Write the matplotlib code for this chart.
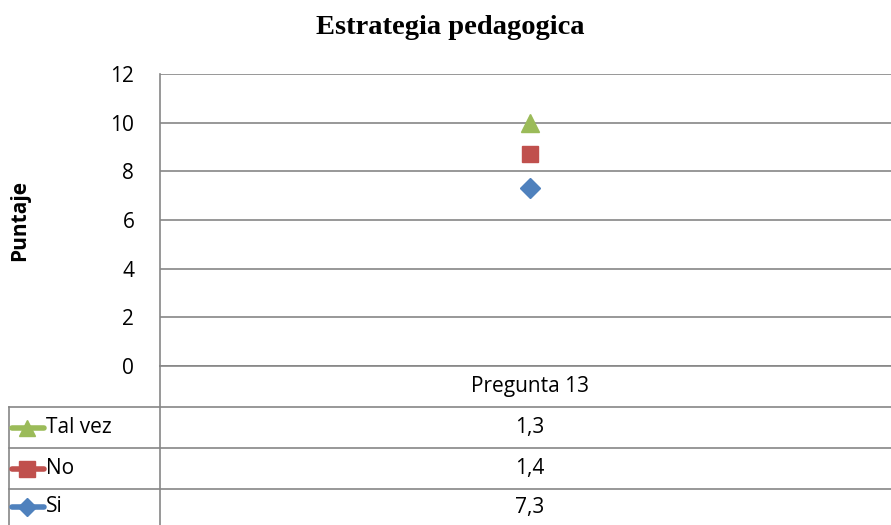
import matplotlib
matplotlib.use("Agg")
import matplotlib.pyplot as plt
import numpy as np

categories = ["Pregunta 13"]
series_names = ["Si", "No", "Tal vez"]
values = {"Si": [7.3], "No": [1.4], "Tal vez": [1.3]}
value_labels = {"Si": ["7,3"], "No": ["1,4"], "Tal vez": ["1,3"]}
colors = {"Si": "#4F81BD", "No": "#C0504D", "Tal vez": "#9BBB59"}
markers = {"Si": "D", "No": "s", "Tal vez": "^"}
msizes = {"Si": 10, "No": 12, "Tal vez": 13}
yticks = [0, 2, 4, 6, 8, 10, 12]
title = "Estrategia pedagogica"
ylabel = "Puntaje"

W, H = 891, 525
fig = plt.figure(figsize=(W / 100, H / 100), dpi=100)
font = "Open Sans"
gray = "#868686"
fs = 15

L, R, T, B = 160, 900, 74, 366
ax = fig.add_axes([L / W, 1 - B / H, (R - L) / W, (B - T) / H])
x = np.arange(len(categories))
cum = np.zeros(len(categories))
for name in series_names:
    cum = cum + np.array(values[name])
    ax.plot(x, cum, marker=markers[name], color=colors[name], markersize=msizes[name],
            linestyle="-", linewidth=2.5, zorder=3, clip_on=False)
ax.set_xlim(-0.5, len(categories) - 0.5)
ax.set_ylim(0, 12)
ax.set_yticks(yticks)
ax.set_yticklabels([str(v) for v in yticks], fontsize=fs, family=font)
ax.tick_params(axis="y", length=0, pad=18.5)
ax.set_xticks([])
ax.grid(axis="y", color=gray, linewidth=1.2)
for s in ["top", "right", "bottom"]:
    ax.spines[s].set_visible(False)
ax.spines["left"].set_color(gray)
ax.spines["left"].set_linewidth(1.2)
ax.set_axisbelow(True)

# Title and y label
fig.text(450 / W, 1 - 28 / H, title, ha="center", va="center", fontsize=20.5,
         fontweight="bold", family="Liberation Serif")
fig.text(20 / W, 1 - 220 / H, ylabel, ha="center", va="center", rotation=90,
         fontsize=15, fontweight="bold", family=font)

# Data table drawn in figure pixel coordinates
def fx(px): return px / W
def fy(py): return 1 - py / H

def hline(y, x0, x1):
    fig.add_artist(plt.Line2D([fx(x0), fx(x1)], [fy(y), fy(y)], color=gray, linewidth=1.2))

def vline(xp, y0, y1):
    fig.add_artist(plt.Line2D([fx(xp), fx(xp)], [fy(y0), fy(y1)], color=gray, linewidth=1.2))

row_edges = [407, 448, 489, 525]
vline(L, B, H)
vline(9, row_edges[0], H)
for y in row_edges[:-1]:
    hline(y, 9, W)
hline(B, L, W)

cx = (L + R) / 2
fig.text(fx(cx), fy((B + row_edges[0]) / 2), categories[0], ha="center", va="center",
         fontsize=fs, family=font)

rows = list(reversed(series_names))
for i, name in enumerate(rows):
    yc = (row_edges[i] + row_edges[i + 1]) / 2
    fig.add_artist(plt.Line2D([fx(12), fx(44)], [fy(yc), fy(yc)], color=colors[name],
                              linewidth=4, solid_capstyle="round"))
    fig.add_artist(plt.Line2D([fx(27)], [fy(yc)], marker=markers[name], color=colors[name],
                              markersize=msizes[name] - 1, linestyle="none"))
    fig.text(fx(46), fy(yc), name, ha="left", va="center", fontsize=fs, family=font)
    fig.text(fx(cx), fy(yc), value_labels[name][0], ha="center", va="center",
             fontsize=fs, family=font)

fig.savefig("out.png", dpi=100)
